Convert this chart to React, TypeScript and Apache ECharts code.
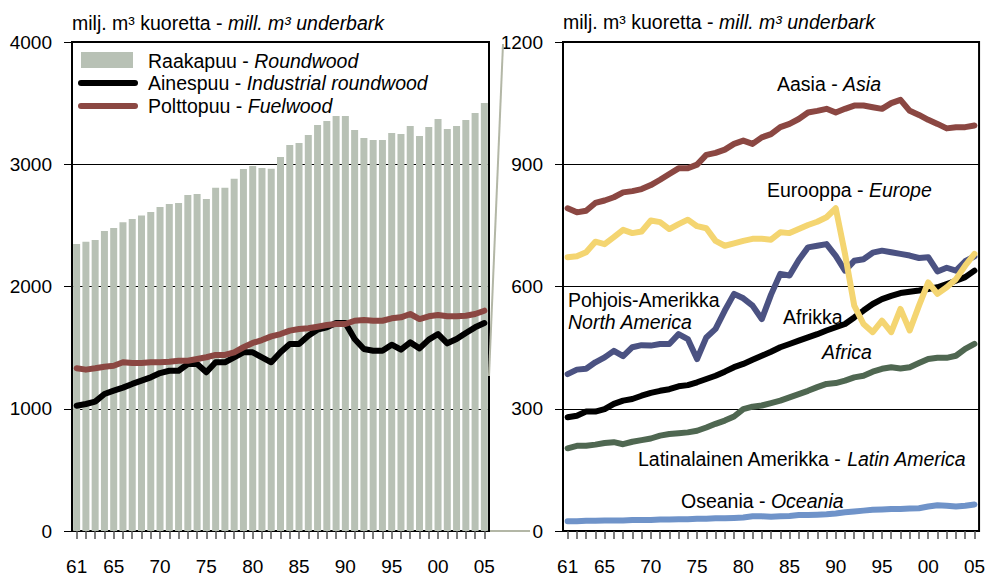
import React, { useEffect, useRef } from "react";
import * as echarts from "echarts";

const years: string[] = [];
for (let y = 1961; y <= 2005; y++) years.push(String(y));

const roundwood = [2348,2367,2380,2454,2478,2525,2552,2580,2609,2650,2675,2683,2748,2757,2716,2808,2808,2882,2961,2986,2969,2964,3059,3157,3174,3239,3321,3354,3395,3395,3280,3215,3198,3198,3256,3247,3313,3231,3305,3370,3288,3313,3362,3419,3501];
const industrial = [1025,1039,1058,1121,1148,1173,1203,1230,1257,1292,1311,1311,1366,1366,1298,1380,1380,1421,1462,1462,1421,1380,1462,1530,1530,1598,1647,1666,1701,1701,1570,1489,1475,1475,1524,1483,1543,1494,1565,1611,1535,1570,1620,1666,1701];
const fuelwood = [1331,1320,1331,1344,1352,1380,1374,1374,1380,1380,1385,1393,1393,1407,1421,1440,1440,1462,1503,1538,1562,1592,1611,1639,1652,1658,1671,1685,1693,1693,1720,1726,1720,1720,1740,1748,1775,1734,1756,1767,1756,1756,1761,1775,1802];

const asia = [792,782,786,805,811,819,831,834,839,849,862,876,890,890,899,923,928,936,950,958,950,966,974,991,999,1011,1027,1031,1036,1027,1036,1044,1044,1040,1036,1050,1058,1031,1021,1009,999,988,991,991,995];
const europe = [672,674,684,710,704,721,739,731,735,762,758,741,753,764,748,743,712,700,706,712,717,717,715,733,731,741,751,759,770,792,680,553,508,488,516,488,545,492,553,610,582,598,618,651,680];
const northAmerica = [385,396,398,414,426,442,429,451,456,455,459,459,483,471,422,475,496,541,582,571,553,520,580,631,627,665,696,700,704,675,639,663,667,683,688,684,680,676,670,672,637,646,639,662,674];
const africa = [279,283,293,293,299,312,320,324,332,339,344,348,355,358,365,373,381,391,402,410,420,430,440,451,459,467,475,483,492,500,508,524,541,557,569,577,584,587,590,594,598,606,614,623,639];
const latinAmerica = [203,209,209,212,216,218,213,219,223,227,234,238,240,242,246,254,263,271,281,299,305,308,314,320,328,336,344,353,361,363,369,377,381,391,398,402,399,402,412,422,425,425,430,447,459];
const oceania = [24,24,25,25,26,26,26,27,27,27,28,28,29,29,30,30,31,31,32,33,36,36,35,36,37,39,39,40,41,43,46,48,50,52,53,54,54,55,56,60,63,62,60,62,65];

const FONT = "'Liberation Sans', Arial, sans-serif";
const C_BAR = "#b8c1b5";
const C_BROWN = "#8b4742";
const C_YELLOW = "#f4d571";
const C_NAVY = "#4b5282";
const C_GREEN = "#4f6751";
const C_BLUE = "#6f93c9";
const C_ZOOM = "#b3b7a6";
const TS = 19.5;

function rt(x: number, y: number, normal: string, italic: string) {
  const parts = (normal ? `{n|${normal}}` : "") + (italic ? `{i|${italic}}` : "");
  return {
    type: "text",
    x,
    y,
    z: 100,
    style: {
      text: parts,
      align: "left",
      textAlign: "left",
      verticalAlign: "middle",
      textVerticalAlign: "middle",
      fontSize: TS,
      fontFamily: FONT,
      fill: "#000",
      rich: {
        n: { fontSize: TS, fontFamily: FONT, fill: "#000", color: "#000" },
        i: { fontSize: TS, fontFamily: FONT, fill: "#000", color: "#000", fontStyle: "italic" },
      },
    },
  };
}

export default function App() {
  const ref = useRef<HTMLDivElement>(null);
  useEffect(() => {
    if (!ref.current) return;
    const chart = echarts.init(ref.current, null, { renderer: "svg" });
    const labelInterval = (i: number) => i === 0 || (1961 + i) % 5 === 0;
    const xAxisBase = {
      type: "category",
      data: years,
      boundaryGap: true,
      axisLine: { show: true, onZero: false, lineStyle: { color: "#000", width: 2 } },
      axisTick: { show: true, alignWithLabel: true, interval: 0, length: 8, lineStyle: { color: "#555", width: 1.5 } },
      axisLabel: {
        interval: (i: number) => labelInterval(i),
        formatter: (v: string) => v.slice(2),
        fontSize: 19,
        fontFamily: FONT,
        color: "#000",
        margin: 26,
      },
      splitLine: { show: false },
    };
    const yAxisBase = (max: number, interval: number) => ({
      type: "value",
      min: 0,
      max,
      interval,
      axisLine: { show: true, lineStyle: { color: "#000", width: 2 } },
      axisTick: { show: true, length: 8, lineStyle: { color: "#000", width: 1 } },
      axisLabel: { fontSize: 19, fontFamily: FONT, color: "#000", margin: 20, formatter: (v: number) => String(v) },
      splitLine: { show: true, lineStyle: { color: "#000", width: 1 } },
    });
    const lineS = (name: string, data: number[], color: string, xi: number) => ({
      name,
      type: "line",
      data,
      xAxisIndex: xi,
      yAxisIndex: xi,
      symbol: "none",
      lineStyle: { color, width: 6, cap: "round", join: "round" },
      itemStyle: { color },
      z: 3,
    });
    chart.setOption({
      animation: false,
      grid: [
        { left: 72, top: 42, width: 417, height: 489, show: true, borderColor: "#000", borderWidth: 2, backgroundColor: "transparent" },
        { left: 563, top: 42, width: 417, height: 489, show: true, borderColor: "#000", borderWidth: 2, backgroundColor: "transparent" },
      ],
      xAxis: [
        { ...xAxisBase, gridIndex: 0 },
        { ...xAxisBase, gridIndex: 1 },
      ],
      yAxis: [
        { ...yAxisBase(4000, 1000), gridIndex: 0 },
        { ...yAxisBase(1200, 300), gridIndex: 1 },
      ],
      series: [
        {
          name: "Raakapuu - Roundwood",
          type: "bar",
          data: roundwood,
          xAxisIndex: 0,
          yAxisIndex: 0,
          barWidth: 7,
          itemStyle: { color: C_BAR },
          z: 2,
        },
        lineS("Ainespuu - Industrial roundwood", industrial, "#000", 0),
        lineS("Polttopuu - Fuelwood", fuelwood, C_BROWN, 0),
        lineS("Latinalainen Amerikka - Latin America", latinAmerica, C_GREEN, 1),
        lineS("Oseania - Oceania", oceania, C_BLUE, 1),
        lineS("Afrikka - Africa", africa, "#000", 1),
        lineS("Pohjois-Amerikka - North America", northAmerica, C_NAVY, 1),
        lineS("Aasia - Asia", asia, C_BROWN, 1),
        lineS("Eurooppa - Europe", europe, C_YELLOW, 1),
      ],
      graphic: [
        { type: "line", z: 1, shape: { x1: 503, y1: 44, x2: 489, y2: 376 }, style: { stroke: C_ZOOM, lineWidth: 2 } },
        { type: "line", z: 1, shape: { x1: 490, y1: 531, x2: 530, y2: 531 }, style: { stroke: C_ZOOM, lineWidth: 2 } },
        rt(72, 23, "milj. m³ kuoretta - ", "mill. m³ underbark"),
        rt(563, 22, "milj. m³ kuoretta - ", "mill. m³ underbark"),
        { type: "rect", z: 100, shape: { x: 81, y: 52, width: 52, height: 16 }, style: { fill: C_BAR } },
        { type: "line", z: 100, shape: { x1: 81, y1: 83, x2: 135, y2: 83 }, style: { stroke: "#000", lineWidth: 6, lineCap: "round" } },
        { type: "line", z: 100, shape: { x1: 81, y1: 106, x2: 135, y2: 106 }, style: { stroke: C_BROWN, lineWidth: 6, lineCap: "round" } },
        rt(148, 61, "Raakapuu - ", "Roundwood"),
        rt(148, 83, "Ainespuu - ", "Industrial roundwood"),
        rt(148, 106, "Polttopuu - ", "Fuelwood"),
        rt(777, 84, "Aasia - ", "Asia"),
        rt(767, 190, "Eurooppa - ", "Europe"),
        rt(568, 300, "Pohjois-Amerikka", ""),
        rt(568, 322, "", "North America"),
        rt(783, 317, "Afrikka", ""),
        rt(822, 352, "", "Africa"),
        rt(638, 459, "Latinalainen Amerikka - ", "Latin America"),
        rt(681, 501, "Oseania - ", "Oceania"),
      ],
    });
    return () => chart.dispose();
  }, []);
  return (
    <div
      ref={ref}
      style={{ position: "absolute", left: 0, top: 0, width: 988, height: 576, background: "#fff" }}
    />
  );
}
